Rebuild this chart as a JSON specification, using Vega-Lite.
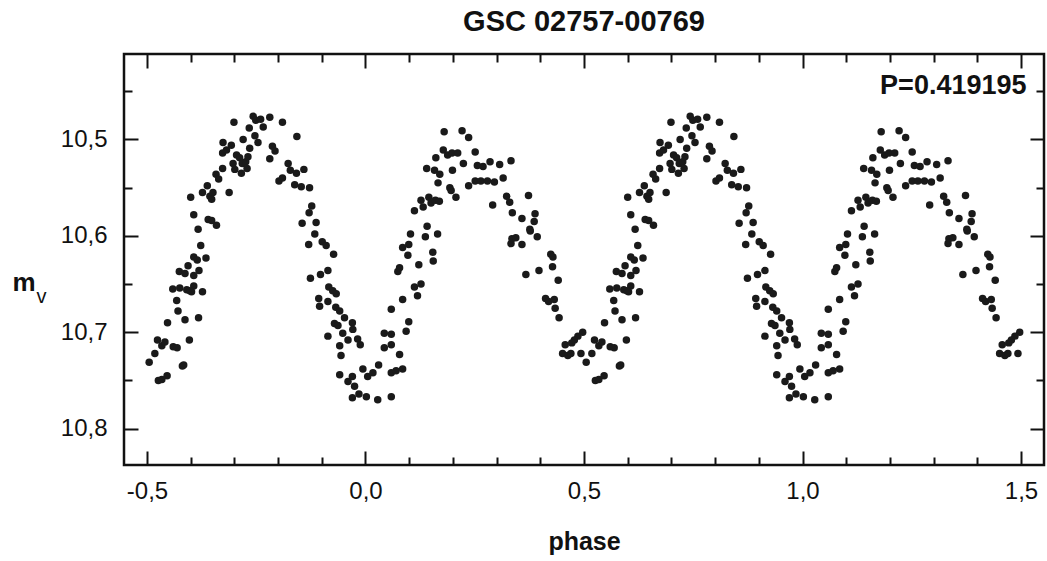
{
"$schema": "https://vega.github.io/schema/vega-lite/v6.json",
"width": 920, "height": 411,
"autosize": {"type": "none"},
"padding": {"left": 124, "top": 54, "right": 3, "bottom": 96},
"background": "white",
"title": {"text": "GSC 02757-00769", "anchor": "middle", "font": "Liberation Sans", "fontSize": 29, "fontWeight": "bold", "color": "#111", "offset": 16},
"config": {
  "view": {"stroke": "#111", "strokeWidth": 2.5},
  "axis": {"domain": false, "grid": false, "tickColor": "#111", "tickWidth": 2, "tickCap": "butt", "labelFont": "Liberation Sans", "labelFontSize": 24, "labelColor": "#111", "titleFont": "Liberation Sans", "titleColor": "#111"}
},
"datasets": {
"obs": [
{"phase":-0.400,"mag":10.560},{"phase":-0.393,"mag":10.578},{"phase":-0.373,"mag":10.555},{"phase":-0.362,"mag":10.548},{"phase":-0.356,"mag":10.559},{"phase":-0.349,"mag":10.555},{"phase":-0.352,"mag":10.562},{"phase":-0.342,"mag":10.536},{"phase":-0.336,"mag":10.541},{"phase":-0.327,"mag":10.530},{"phase":-0.326,"mag":10.503},{"phase":-0.327,"mag":10.514},{"phase":-0.318,"mag":10.511},{"phase":-0.307,"mag":10.506},{"phase":-0.312,"mag":10.555},{"phase":-0.303,"mag":10.525},{"phase":-0.299,"mag":10.531},{"phase":-0.295,"mag":10.516},{"phase":-0.288,"mag":10.519},{"phase":-0.284,"mag":10.535},{"phase":-0.282,"mag":10.525},{"phase":-0.274,"mag":10.523},{"phase":-0.271,"mag":10.530},{"phase":-0.269,"mag":10.518},{"phase":-0.265,"mag":10.509},{"phase":-0.301,"mag":10.482},{"phase":-0.280,"mag":10.500},{"phase":-0.266,"mag":10.488},{"phase":-0.257,"mag":10.476},{"phase":-0.251,"mag":10.480},{"phase":-0.240,"mag":10.479},{"phase":-0.234,"mag":10.487},{"phase":-0.253,"mag":10.496},{"phase":-0.246,"mag":10.503},{"phase":-0.219,"mag":10.477},{"phase":-0.190,"mag":10.482},{"phase":-0.213,"mag":10.507},{"phase":-0.207,"mag":10.512},{"phase":-0.219,"mag":10.520},{"phase":-0.157,"mag":10.497},{"phase":-0.177,"mag":10.525},{"phase":-0.172,"mag":10.532},{"phase":-0.158,"mag":10.535},{"phase":-0.141,"mag":10.531},{"phase":-0.198,"mag":10.543},{"phase":-0.190,"mag":10.540},{"phase":-0.162,"mag":10.547},{"phase":-0.147,"mag":10.549},{"phase":-0.128,"mag":10.550},{"phase":-0.123,"mag":10.569},{"phase":-0.129,"mag":10.576},
{"phase":-0.360,"mag":10.583},{"phase":-0.352,"mag":10.584},{"phase":-0.341,"mag":10.589},{"phase":-0.383,"mag":10.593},{"phase":-0.377,"mag":10.610},{"phase":-0.393,"mag":10.622},{"phase":-0.385,"mag":10.625},{"phase":-0.365,"mag":10.623},{"phase":-0.406,"mag":10.631},{"phase":-0.426,"mag":10.637},{"phase":-0.413,"mag":10.639},{"phase":-0.393,"mag":10.641},{"phase":-0.381,"mag":10.636},{"phase":-0.393,"mag":10.652},{"phase":-0.441,"mag":10.655},{"phase":-0.425,"mag":10.654},{"phase":-0.409,"mag":10.656},{"phase":-0.398,"mag":10.658},{"phase":-0.402,"mag":10.657},{"phase":-0.373,"mag":10.658},{"phase":-0.432,"mag":10.667},{"phase":-0.429,"mag":10.678},{"phase":-0.413,"mag":10.687},{"phase":-0.382,"mag":10.685},{"phase":-0.453,"mag":10.690},{"phase":-0.476,"mag":10.708},{"phase":-0.466,"mag":10.714},{"phase":-0.459,"mag":10.710},{"phase":-0.440,"mag":10.715},{"phase":-0.431,"mag":10.716},{"phase":-0.403,"mag":10.708},{"phase":-0.482,"mag":10.722},{"phase":-0.495,"mag":10.731},{"phase":-0.474,"mag":10.750},{"phase":-0.466,"mag":10.749},{"phase":-0.454,"mag":10.745},{"phase":-0.419,"mag":10.735},{"phase":-0.416,"mag":10.734},
{"phase":-0.145,"mag":10.587},{"phase":-0.113,"mag":10.586},{"phase":-0.116,"mag":10.598},{"phase":-0.130,"mag":10.609},{"phase":-0.099,"mag":10.606},{"phase":-0.090,"mag":10.610},{"phase":-0.073,"mag":10.619},{"phase":-0.126,"mag":10.644},{"phase":-0.103,"mag":10.640},{"phase":-0.086,"mag":10.636},{"phase":-0.084,"mag":10.653},{"phase":-0.075,"mag":10.657},{"phase":-0.067,"mag":10.660},{"phase":-0.107,"mag":10.665},{"phase":-0.105,"mag":10.673},{"phase":-0.086,"mag":10.668},{"phase":-0.068,"mag":10.674},{"phase":-0.071,"mag":10.691},{"phase":-0.063,"mag":10.693},{"phase":-0.086,"mag":10.704},
{"phase":-0.059,"mag":10.678},{"phase":-0.048,"mag":10.685},{"phase":-0.030,"mag":10.690},{"phase":-0.052,"mag":10.701},{"phase":-0.029,"mag":10.697},{"phase":-0.040,"mag":10.708},{"phase":-0.018,"mag":10.707},{"phase":-0.012,"mag":10.713},{"phase":-0.059,"mag":10.714},{"phase":-0.056,"mag":10.724},{"phase":-0.059,"mag":10.744},{"phase":-0.040,"mag":10.751},{"phase":-0.030,"mag":10.746},{"phase":-0.025,"mag":10.756},{"phase":-0.015,"mag":10.764},{"phase":-0.030,"mag":10.768},{"phase":0.002,"mag":10.767},{"phase":0.028,"mag":10.770},{"phase":0.059,"mag":10.767},{"phase":-0.006,"mag":10.738},{"phase":0.005,"mag":10.746},{"phase":0.017,"mag":10.742},{"phase":0.030,"mag":10.734},{"phase":0.059,"mag":10.742},{"phase":0.070,"mag":10.740},{"phase":0.085,"mag":10.738},{"phase":0.043,"mag":10.716},{"phase":0.059,"mag":10.713},{"phase":0.078,"mag":10.723},{"phase":0.043,"mag":10.701},{"phase":0.059,"mag":10.702},{"phase":0.093,"mag":10.699},{"phase":0.099,"mag":10.689},{"phase":0.059,"mag":10.676},{"phase":0.085,"mag":10.666},{"phase":0.112,"mag":10.653},{"phase":0.127,"mag":10.650},{"phase":0.119,"mag":10.662},{"phase":0.074,"mag":10.637},{"phase":0.078,"mag":10.633},{"phase":0.122,"mag":10.630},{"phase":0.085,"mag":10.612},{"phase":0.099,"mag":10.609},{"phase":0.097,"mag":10.620},{"phase":0.103,"mag":10.598},{"phase":0.137,"mag":10.601},{"phase":0.154,"mag":10.617},{"phase":0.155,"mag":10.626},{"phase":0.165,"mag":10.598},
{"phase":0.335,"mag":10.603},{"phase":0.344,"mag":10.602},{"phase":0.333,"mag":10.608},{"phase":0.358,"mag":10.609},{"phase":0.377,"mag":10.595},{"phase":0.393,"mag":10.601},{"phase":0.424,"mag":10.619},{"phase":0.429,"mag":10.622},{"phase":0.428,"mag":10.632},{"phase":0.397,"mag":10.636},{"phase":0.367,"mag":10.640},{"phase":0.441,"mag":10.646},{"phase":0.412,"mag":10.665},{"phase":0.419,"mag":10.668},{"phase":0.432,"mag":10.666},{"phase":0.434,"mag":10.675},{"phase":0.443,"mag":10.685},
{"phase":0.497,"mag":10.700},{"phase":0.486,"mag":10.704},{"phase":0.478,"mag":10.708},{"phase":0.472,"mag":10.711},{"phase":0.457,"mag":10.713},{"phase":0.451,"mag":10.722},{"phase":0.463,"mag":10.724},{"phase":0.470,"mag":10.722},{"phase":0.493,"mag":10.722},
{"phase":0.180,"mag":10.492},{"phase":0.221,"mag":10.491},{"phase":0.236,"mag":10.498},{"phase":0.178,"mag":10.511},{"phase":0.188,"mag":10.516},{"phase":0.198,"mag":10.514},{"phase":0.211,"mag":10.514},{"phase":0.251,"mag":10.513},{"phase":0.161,"mag":10.519},{"phase":0.224,"mag":10.525},{"phase":0.256,"mag":10.527},{"phase":0.269,"mag":10.528},{"phase":0.285,"mag":10.523},{"phase":0.307,"mag":10.526},{"phase":0.333,"mag":10.522},{"phase":0.140,"mag":10.530},{"phase":0.158,"mag":10.532},{"phase":0.170,"mag":10.536},{"phase":0.199,"mag":10.532},{"phase":0.166,"mag":10.545},{"phase":0.193,"mag":10.550},{"phase":0.196,"mag":10.553},{"phase":0.207,"mag":10.560},{"phase":0.236,"mag":10.548},{"phase":0.251,"mag":10.543},{"phase":0.264,"mag":10.543},{"phase":0.279,"mag":10.543},{"phase":0.295,"mag":10.544},{"phase":0.315,"mag":10.540},{"phase":0.127,"mag":10.563},{"phase":0.132,"mag":10.570},{"phase":0.145,"mag":10.560},{"phase":0.150,"mag":10.566},{"phase":0.160,"mag":10.563},{"phase":0.169,"mag":10.564},{"phase":0.112,"mag":10.574},{"phase":0.291,"mag":10.568},{"phase":0.323,"mag":10.559},{"phase":0.330,"mag":10.565},{"phase":0.373,"mag":10.558},{"phase":0.336,"mag":10.576},{"phase":0.358,"mag":10.582},{"phase":0.388,"mag":10.577},{"phase":0.386,"mag":10.585},{"phase":0.376,"mag":10.593},{"phase":0.141,"mag":10.590},
{"phase":0.600,"mag":10.560},{"phase":0.607,"mag":10.578},{"phase":0.627,"mag":10.555},{"phase":0.638,"mag":10.548},{"phase":0.644,"mag":10.559},{"phase":0.651,"mag":10.555},{"phase":0.648,"mag":10.562},{"phase":0.658,"mag":10.536},{"phase":0.664,"mag":10.541},{"phase":0.673,"mag":10.530},{"phase":0.674,"mag":10.503},{"phase":0.673,"mag":10.514},{"phase":0.682,"mag":10.511},{"phase":0.693,"mag":10.506},{"phase":0.688,"mag":10.555},{"phase":0.697,"mag":10.525},{"phase":0.701,"mag":10.531},{"phase":0.705,"mag":10.516},{"phase":0.712,"mag":10.519},{"phase":0.716,"mag":10.535},{"phase":0.718,"mag":10.525},{"phase":0.726,"mag":10.523},{"phase":0.729,"mag":10.530},{"phase":0.731,"mag":10.518},{"phase":0.735,"mag":10.509},{"phase":0.699,"mag":10.482},{"phase":0.720,"mag":10.500},{"phase":0.734,"mag":10.488},{"phase":0.743,"mag":10.476},{"phase":0.749,"mag":10.480},{"phase":0.760,"mag":10.479},{"phase":0.766,"mag":10.487},{"phase":0.747,"mag":10.496},{"phase":0.754,"mag":10.503},{"phase":0.781,"mag":10.477},{"phase":0.810,"mag":10.482},{"phase":0.787,"mag":10.507},{"phase":0.793,"mag":10.512},{"phase":0.781,"mag":10.520},{"phase":0.843,"mag":10.497},{"phase":0.823,"mag":10.525},{"phase":0.828,"mag":10.532},{"phase":0.842,"mag":10.535},{"phase":0.859,"mag":10.531},{"phase":0.802,"mag":10.543},{"phase":0.810,"mag":10.540},{"phase":0.838,"mag":10.547},{"phase":0.853,"mag":10.549},{"phase":0.872,"mag":10.550},{"phase":0.877,"mag":10.569},{"phase":0.871,"mag":10.576},
{"phase":0.640,"mag":10.583},{"phase":0.648,"mag":10.584},{"phase":0.659,"mag":10.589},{"phase":0.617,"mag":10.593},{"phase":0.623,"mag":10.610},{"phase":0.607,"mag":10.622},{"phase":0.615,"mag":10.625},{"phase":0.635,"mag":10.623},{"phase":0.594,"mag":10.631},{"phase":0.574,"mag":10.637},{"phase":0.587,"mag":10.639},{"phase":0.607,"mag":10.641},{"phase":0.619,"mag":10.636},{"phase":0.607,"mag":10.652},{"phase":0.559,"mag":10.655},{"phase":0.575,"mag":10.654},{"phase":0.591,"mag":10.656},{"phase":0.602,"mag":10.658},{"phase":0.598,"mag":10.657},{"phase":0.627,"mag":10.658},{"phase":0.568,"mag":10.667},{"phase":0.571,"mag":10.678},{"phase":0.587,"mag":10.687},{"phase":0.618,"mag":10.685},{"phase":0.547,"mag":10.690},{"phase":0.524,"mag":10.708},{"phase":0.534,"mag":10.714},{"phase":0.541,"mag":10.710},{"phase":0.560,"mag":10.715},{"phase":0.569,"mag":10.716},{"phase":0.597,"mag":10.708},{"phase":0.518,"mag":10.722},{"phase":0.505,"mag":10.731},{"phase":0.526,"mag":10.750},{"phase":0.534,"mag":10.749},{"phase":0.546,"mag":10.745},{"phase":0.581,"mag":10.735},{"phase":0.584,"mag":10.734},
{"phase":0.855,"mag":10.587},{"phase":0.887,"mag":10.586},{"phase":0.884,"mag":10.598},{"phase":0.870,"mag":10.609},{"phase":0.901,"mag":10.606},{"phase":0.910,"mag":10.610},{"phase":0.927,"mag":10.619},{"phase":0.874,"mag":10.644},{"phase":0.897,"mag":10.640},{"phase":0.914,"mag":10.636},{"phase":0.916,"mag":10.653},{"phase":0.925,"mag":10.657},{"phase":0.933,"mag":10.660},{"phase":0.893,"mag":10.665},{"phase":0.895,"mag":10.673},{"phase":0.914,"mag":10.668},{"phase":0.932,"mag":10.674},{"phase":0.929,"mag":10.691},{"phase":0.937,"mag":10.693},{"phase":0.914,"mag":10.704},
{"phase":0.941,"mag":10.678},{"phase":0.952,"mag":10.685},{"phase":0.970,"mag":10.690},{"phase":0.948,"mag":10.701},{"phase":0.971,"mag":10.697},{"phase":0.960,"mag":10.708},{"phase":0.982,"mag":10.707},{"phase":0.988,"mag":10.713},{"phase":0.941,"mag":10.714},{"phase":0.944,"mag":10.724},{"phase":0.941,"mag":10.744},{"phase":0.960,"mag":10.751},{"phase":0.970,"mag":10.746},{"phase":0.975,"mag":10.756},{"phase":0.985,"mag":10.764},{"phase":0.970,"mag":10.768},{"phase":1.002,"mag":10.767},{"phase":1.028,"mag":10.770},{"phase":1.059,"mag":10.767},{"phase":0.994,"mag":10.738},{"phase":1.005,"mag":10.746},{"phase":1.017,"mag":10.742},{"phase":1.030,"mag":10.734},{"phase":1.059,"mag":10.742},{"phase":1.070,"mag":10.740},{"phase":1.085,"mag":10.738},{"phase":1.043,"mag":10.716},{"phase":1.059,"mag":10.713},{"phase":1.078,"mag":10.723},{"phase":1.043,"mag":10.701},{"phase":1.059,"mag":10.702},{"phase":1.093,"mag":10.699},{"phase":1.099,"mag":10.689},{"phase":1.059,"mag":10.676},{"phase":1.085,"mag":10.666},{"phase":1.112,"mag":10.653},{"phase":1.127,"mag":10.650},{"phase":1.119,"mag":10.662},{"phase":1.074,"mag":10.637},{"phase":1.078,"mag":10.633},{"phase":1.122,"mag":10.630},{"phase":1.085,"mag":10.612},{"phase":1.099,"mag":10.609},{"phase":1.097,"mag":10.620},{"phase":1.103,"mag":10.598},{"phase":1.137,"mag":10.601},{"phase":1.154,"mag":10.617},{"phase":1.155,"mag":10.626},{"phase":1.165,"mag":10.598},
{"phase":1.335,"mag":10.603},{"phase":1.344,"mag":10.602},{"phase":1.333,"mag":10.608},{"phase":1.358,"mag":10.609},{"phase":1.377,"mag":10.595},{"phase":1.393,"mag":10.601},{"phase":1.424,"mag":10.619},{"phase":1.429,"mag":10.622},{"phase":1.428,"mag":10.632},{"phase":1.397,"mag":10.636},{"phase":1.367,"mag":10.640},{"phase":1.441,"mag":10.646},{"phase":1.412,"mag":10.665},{"phase":1.419,"mag":10.668},{"phase":1.432,"mag":10.666},{"phase":1.434,"mag":10.675},{"phase":1.443,"mag":10.685},
{"phase":1.497,"mag":10.700},{"phase":1.486,"mag":10.704},{"phase":1.478,"mag":10.708},{"phase":1.472,"mag":10.711},{"phase":1.457,"mag":10.713},{"phase":1.451,"mag":10.722},{"phase":1.463,"mag":10.724},{"phase":1.470,"mag":10.722},{"phase":1.493,"mag":10.722},
{"phase":1.180,"mag":10.492},{"phase":1.221,"mag":10.491},{"phase":1.236,"mag":10.498},{"phase":1.178,"mag":10.511},{"phase":1.188,"mag":10.516},{"phase":1.198,"mag":10.514},{"phase":1.211,"mag":10.514},{"phase":1.251,"mag":10.513},{"phase":1.161,"mag":10.519},{"phase":1.224,"mag":10.525},{"phase":1.256,"mag":10.527},{"phase":1.269,"mag":10.528},{"phase":1.285,"mag":10.523},{"phase":1.307,"mag":10.526},{"phase":1.333,"mag":10.522},{"phase":1.140,"mag":10.530},{"phase":1.158,"mag":10.532},{"phase":1.170,"mag":10.536},{"phase":1.199,"mag":10.532},{"phase":1.166,"mag":10.545},{"phase":1.193,"mag":10.550},{"phase":1.196,"mag":10.553},{"phase":1.207,"mag":10.560},{"phase":1.236,"mag":10.548},{"phase":1.251,"mag":10.543},{"phase":1.264,"mag":10.543},{"phase":1.279,"mag":10.543},{"phase":1.295,"mag":10.544},{"phase":1.315,"mag":10.540},{"phase":1.127,"mag":10.563},{"phase":1.132,"mag":10.570},{"phase":1.145,"mag":10.560},{"phase":1.150,"mag":10.566},{"phase":1.160,"mag":10.563},{"phase":1.169,"mag":10.564},{"phase":1.112,"mag":10.574},{"phase":1.291,"mag":10.568},{"phase":1.323,"mag":10.559},{"phase":1.330,"mag":10.565},{"phase":1.373,"mag":10.558},{"phase":1.336,"mag":10.576},{"phase":1.358,"mag":10.582},{"phase":1.388,"mag":10.577},{"phase":1.386,"mag":10.585},{"phase":1.376,"mag":10.593},{"phase":1.141,"mag":10.590}
]
},
"layer": [
  {
    "data": {"name": "obs"},
    "mark": {"type": "circle", "size": 56, "color": "#1a1a1a", "opacity": 1},
    "encoding": {
      "x": {"field": "phase", "type": "quantitative",
        "scale": {"domain": [-0.5526, 1.5526], "nice": false, "zero": false},
        "axis": {"orient": "bottom", "offset": -14,
          "values": [-0.5,-0.4,-0.3,-0.2,-0.1,0,0.1,0.2,0.3,0.4,0.5,0.6,0.7,0.8,0.9,1,1.1,1.2,1.3,1.4,1.5],
          "tickSize": 14,
          "tickDash": {"condition": {"test": "abs(datum.value*2 - round(datum.value*2)) < 0.001", "value": [16, 2]}, "value": [0, 6, 8, 40]},
          "labelExpr": "abs(datum.value*2 - round(datum.value*2)) < 0.001 ? (datum.value < -0.001 ? '-' : '') + replace(format(abs(datum.value), '.1f'), '.', ',') : ''",
          "labelPadding": 14, "labelFlush": false, "labelOverlap": false,
          "title": "phase", "titleFontSize": 25, "titleFontWeight": "bold",
          "titleX": 460, "titleY": 98, "titleAlign": "center", "titleBaseline": "alphabetic"}},
      "y": {"field": "mag", "type": "quantitative",
        "scale": {"domain": [10.4113, 10.8377], "reverse": true, "nice": false, "zero": false},
        "axis": {"orient": "left", "offset": -14,
          "values": [10.45,10.5,10.55,10.6,10.65,10.7,10.75,10.8],
          "tickSize": 14,
          "tickDash": {"condition": {"test": "abs(datum.value*10 - round(datum.value*10)) < 0.001", "value": [16, 2]}, "value": [0, 6, 8, 40]},
          "labelExpr": "abs(datum.value*10 - round(datum.value*10)) < 0.001 ? replace(format(datum.value, '.1f'), '.', ',') : ''",
          "labelPadding": 17, "labelFlush": false, "labelOverlap": false,
          "title": "m", "titleAngle": 0, "titleFontSize": 26, "titleFontWeight": "bold",
          "titleX": -126, "titleY": 236, "titleAlign": "left", "titleBaseline": "alphabetic"}}
    }
  },
  {
    "data": {"values": [{}]},
    "mark": {"type": "point", "opacity": 0},
    "encoding": {
      "x": {"datum": 0, "type": "quantitative",
        "scale": {"domain": [-0.5526, 1.5526], "nice": false, "zero": false},
        "axis": {"orient": "top", "offset": -14,
          "values": [-0.5,-0.4,-0.3,-0.2,-0.1,0,0.1,0.2,0.3,0.4,0.5,0.6,0.7,0.8,0.9,1,1.1,1.2,1.3,1.4,1.5],
          "tickSize": 14,
          "tickDash": {"condition": {"test": "abs(datum.value*2 - round(datum.value*2)) < 0.001", "value": [16, 2]}, "value": [0, 6, 8, 40]},
          "labels": false,
          "title": "P=0.419195", "titleFontSize": 27, "titleFontWeight": "bold",
          "titleX": 902, "titleY": 25, "titleAlign": "right", "titleBaseline": "alphabetic"}},
      "y": {"datum": 10.6, "type": "quantitative",
        "scale": {"domain": [10.4113, 10.8377], "reverse": true, "nice": false, "zero": false},
        "axis": {"orient": "right", "offset": -14,
          "values": [10.45,10.5,10.55,10.6,10.65,10.7,10.75,10.8],
          "tickSize": 14,
          "tickDash": {"condition": {"test": "abs(datum.value*10 - round(datum.value*10)) < 0.001", "value": [16, 2]}, "value": [0, 6, 8, 40]},
          "labels": false,
          "title": "v", "titleAngle": 0, "titleFontSize": 20, "titleFontWeight": "normal",
          "titleX": -994, "titleY": 248, "titleAlign": "left", "titleBaseline": "alphabetic"}}
    }
  }
],
"resolve": {"scale": {"x": "independent", "y": "independent"}}
}
